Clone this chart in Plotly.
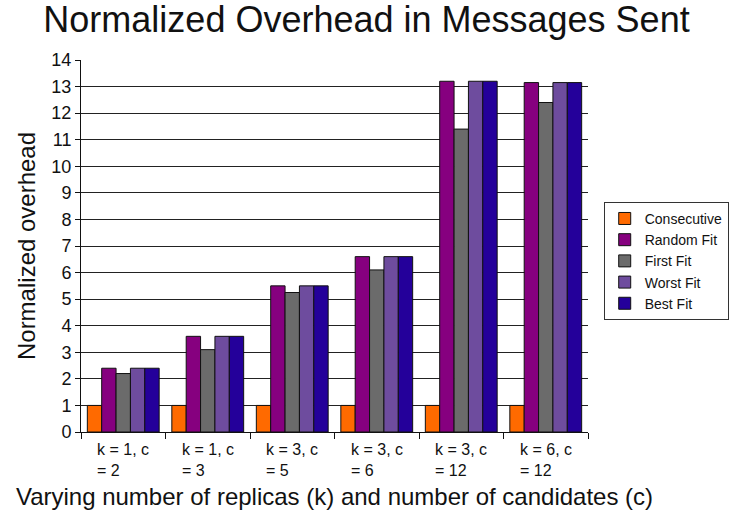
import plotly.graph_objects as go

categories = ["k = 1, c<br>= 2", "k = 1, c<br>= 3", "k = 3, c<br>= 5",
              "k = 3, c<br>= 6", "k = 3, c<br>= 12", "k = 6, c<br>= 12"]
series_names = ["Consecutive", "Random Fit", "First Fit", "Worst Fit", "Best Fit"]
consecutive = [1, 1, 1, 1, 1, 1]
random_fit = [2.4, 3.6, 5.5, 6.6, 13.2, 13.15]
first_fit = [2.2, 3.1, 5.25, 6.1, 11.4, 12.4]
worst_fit = [2.4, 3.6, 5.5, 6.6, 13.2, 13.15]
best_fit = [2.4, 3.6, 5.5, 6.6, 13.2, 13.15]
y_ticks = list(range(0, 15))

colors = ["#FF6A00", "#86007F", "#6B6B6B", "#6E4C9E", "#24009A"]
values = [consecutive, random_fit, first_fit, worst_fit, best_fit]

FONT = "Liberation Sans, Arial, sans-serif"

fig = go.Figure()
for name, vals, col in zip(series_names, values, colors):
    fig.add_trace(go.Bar(
        x=categories, y=vals, name=name,
        marker=dict(color=col, line=dict(color="#111111", width=1)),
    ))

# two-line category labels, left-aligned inside a box centred on each group
for cat in categories:
    fig.add_annotation(
        x=cat, xref="x", y=0, yref="paper", yshift=-7,
        text=cat, showarrow=False, align="left",
        xanchor="center", yanchor="top",
        font=dict(family=FONT, size=16, color="#111111"),
    )

fig.update_layout(
    width=733, height=523,
    margin=dict(l=81, r=145, t=60, b=91, autoexpand=False),
    paper_bgcolor="white", plot_bgcolor="white",
    barmode="group", bargap=0.15, bargroupgap=0,
    title=dict(text="Normalized Overhead in Messages Sent",
               x=0.5, xanchor="center", y=0.962, yanchor="middle",
               font=dict(family=FONT, size=36, color="#111111")),
    legend=dict(x=1.031, xanchor="left", y=0.46, yanchor="middle",
                bordercolor="#333333", borderwidth=1,
                font=dict(family=FONT, size=14, color="#111111"),
                itemwidth=30, tracegroupgap=0),
    xaxis=dict(
        type="category", showticklabels=False,
        ticks="outside", tickson="boundaries", ticklen=6, tickcolor="#111111",
        showline=True, linecolor="#111111", linewidth=1,
        showgrid=False,
        title=dict(text="Varying number of replicas (k) and number of candidates (c)",
                   standoff=56,
                   font=dict(family=FONT, size=24, color="#111111")),
    ),
    yaxis=dict(
        range=[0, 14], tickvals=y_ticks,
        ticks="outside", ticklen=5, tickcolor="#111111",
        showline=True, linecolor="#111111", linewidth=1,
        showgrid=True, gridcolor="#222222", gridwidth=1,
        zeroline=False,
        tickfont=dict(family=FONT, size=18, color="#111111"),
        title=dict(text="Normalized overhead", standoff=8,
                   font=dict(family=FONT, size=24, color="#111111")),
    ),
)

fig.write_html("out.html")
